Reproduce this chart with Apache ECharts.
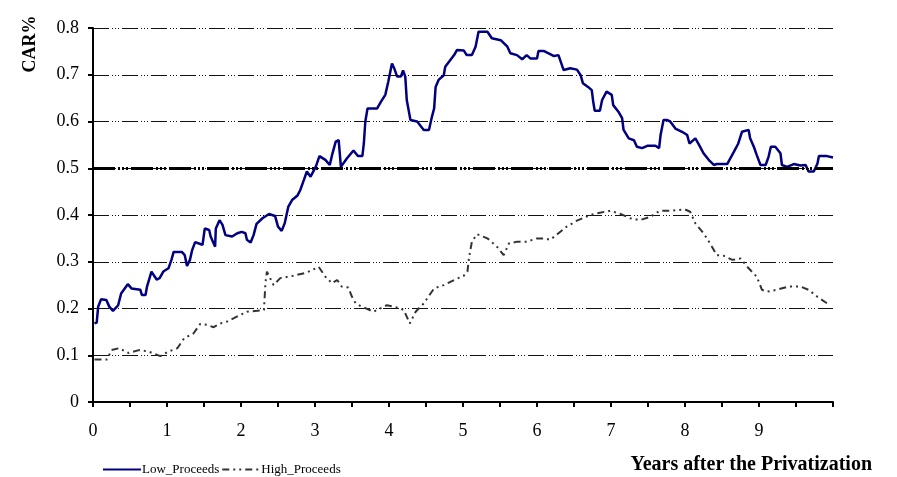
<!DOCTYPE html>
<html>
<head>
<meta charset="utf-8">
<script src="https://cdn.jsdelivr.net/npm/echarts@6/dist/echarts.min.js"></script>
<style>
  html, body { margin: 0; padding: 0; background: #fff; }
  #chart { width: 897px; height: 477px; }
</style>
</head>
<body>
<div id="chart"></div>
<script>
// values (years after privatization -> CAR)
var lowYears = [0.02, 0.05, 0.07, 0.11, 0.18, 0.22, 0.27, 0.34, 0.38, 0.47, 0.52, 0.64, 0.66, 0.71, 0.73, 0.79, 0.86, 0.90, 0.95,
  1.02, 1.06, 1.09, 1.20, 1.24, 1.27, 1.31, 1.34, 1.38, 1.45, 1.48, 1.51, 1.57, 1.59, 1.65, 1.66, 1.71, 1.75, 1.79, 1.88, 1.95,
  2.01, 2.06, 2.08, 2.13, 2.17, 2.21, 2.29, 2.38, 2.46, 2.50, 2.55, 2.59, 2.64, 2.69, 2.76, 2.80, 2.85, 2.89, 2.94,
  3.01, 3.06, 3.14, 3.20, 3.23, 3.28, 3.32, 3.35, 3.43, 3.52, 3.58, 3.64, 3.66, 3.68, 3.71, 3.84, 3.89, 3.95, 3.99,
  4.04, 4.07, 4.11, 4.16, 4.19, 4.22, 4.24, 4.29, 4.38, 4.47, 4.54, 4.58, 4.61, 4.63, 4.67, 4.74, 4.76, 4.88, 4.92,
  5.01, 5.05, 5.12, 5.17, 5.21, 5.33, 5.39, 5.51, 5.60, 5.64, 5.73, 5.80, 5.86, 5.91,
  6.00, 6.02, 6.09, 6.23, 6.29, 6.36, 6.45, 6.54, 6.59, 6.62, 6.69, 6.74, 6.76, 6.78, 6.85, 6.88, 6.94,
  7.01, 7.03, 7.10, 7.15, 7.17, 7.24, 7.31, 7.35, 7.42, 7.49, 7.60, 7.65, 7.67, 7.71, 7.76, 7.80, 7.87, 7.96,
  8.03, 8.06, 8.14, 8.19, 8.25, 8.32, 8.39, 8.43, 8.57, 8.66, 8.72, 8.77, 8.86, 8.88, 8.93, 8.97,
  9.02, 9.09, 9.13, 9.16, 9.22, 9.29, 9.31, 9.38, 9.47, 9.56, 9.63, 9.67, 9.74, 9.79, 9.81, 9.92, 10.0];
var lowValues = [0.168, 0.17, 0.204, 0.22, 0.218, 0.204, 0.195, 0.207, 0.232, 0.252, 0.243, 0.240, 0.229, 0.229, 0.247, 0.279, 0.262, 0.265, 0.279,
  0.286, 0.304, 0.321, 0.321, 0.314, 0.291, 0.304, 0.325, 0.342, 0.338, 0.336, 0.371, 0.368, 0.354, 0.332, 0.371, 0.389, 0.379, 0.357, 0.354, 0.361,
  0.364, 0.361, 0.347, 0.341, 0.357, 0.381, 0.393, 0.402, 0.398, 0.375, 0.366, 0.382, 0.418, 0.432, 0.441, 0.453, 0.475, 0.493, 0.482,
  0.503, 0.526, 0.518, 0.507, 0.528, 0.557, 0.560, 0.503, 0.521, 0.538, 0.526, 0.526, 0.553, 0.600, 0.628, 0.628, 0.642, 0.657, 0.685,
  0.724, 0.714, 0.696, 0.696, 0.709, 0.696, 0.646, 0.603, 0.600, 0.582, 0.582, 0.610, 0.628, 0.674, 0.689, 0.699, 0.717, 0.742, 0.753,
  0.752, 0.742, 0.742, 0.760, 0.792, 0.792, 0.778, 0.774, 0.760, 0.746, 0.742, 0.733, 0.742, 0.735,
  0.735, 0.751, 0.751, 0.740, 0.742, 0.710, 0.714, 0.711, 0.699, 0.682, 0.674, 0.667, 0.642, 0.623, 0.623, 0.646, 0.664,
  0.657, 0.635, 0.621, 0.607, 0.582, 0.564, 0.560, 0.546, 0.543, 0.548, 0.548, 0.543, 0.571, 0.603, 0.603, 0.600, 0.585, 0.578,
  0.571, 0.553, 0.564, 0.550, 0.532, 0.518, 0.507, 0.509, 0.509, 0.535, 0.553, 0.578, 0.582, 0.564, 0.546, 0.528,
  0.507, 0.507, 0.525, 0.546, 0.546, 0.532, 0.507, 0.503, 0.509, 0.506, 0.507, 0.493, 0.493, 0.510, 0.526, 0.526, 0.523];

var highYears = [0.02, 0.19, 0.25, 0.35, 0.48, 0.62, 0.75, 0.91, 1.02, 1.14, 1.23, 1.36, 1.45, 1.54, 1.63, 1.72, 1.81, 1.95,
  2.08, 2.22, 2.31, 2.33, 2.35, 2.44, 2.53, 2.71, 2.89, 3.05, 3.14, 3.23, 3.30, 3.36, 3.45, 3.50, 3.55, 3.62, 3.79, 3.97,
  4.09, 4.20, 4.28, 4.36, 4.47, 4.61, 4.74, 4.88, 5.01, 5.06, 5.08, 5.12, 5.19, 5.33, 5.46, 5.55, 5.62, 5.73, 5.86,
  6.00, 6.09, 6.18, 6.29, 6.40, 6.54, 6.72, 6.85, 6.99, 7.12, 7.26, 7.39, 7.53, 7.66, 7.80, 8.00, 8.07, 8.14, 8.25,
  8.34, 8.43, 8.52, 8.64, 8.75, 8.86, 8.97, 9.04, 9.11, 9.24, 9.40, 9.56, 9.67, 9.79, 9.92];
var highValues = [0.091, 0.091, 0.111, 0.115, 0.105, 0.111, 0.108, 0.098, 0.108, 0.115, 0.136, 0.147, 0.167, 0.165, 0.160, 0.168, 0.172, 0.183,
  0.193, 0.195, 0.197, 0.254, 0.279, 0.250, 0.265, 0.270, 0.277, 0.289, 0.268, 0.254, 0.261, 0.247, 0.245, 0.225, 0.211, 0.205, 0.193, 0.207,
  0.203, 0.197, 0.168, 0.193, 0.211, 0.243, 0.250, 0.261, 0.270, 0.279, 0.307, 0.343, 0.359, 0.350, 0.332, 0.314, 0.339, 0.343, 0.343,
  0.350, 0.350, 0.347, 0.361, 0.375, 0.388, 0.400, 0.405, 0.409, 0.403, 0.393, 0.389, 0.396, 0.409, 0.409, 0.412, 0.407, 0.382, 0.361,
  0.339, 0.314, 0.313, 0.304, 0.307, 0.286, 0.268, 0.240, 0.236, 0.240, 0.247, 0.247, 0.240, 0.225, 0.211];

var seriesNames = ['Low_Proceeds', 'High_Proceeds'];
var yTicks = [0, 0.1, 0.2, 0.3, 0.4, 0.5, 0.6, 0.7, 0.8];

function pairs(xs, ys) {
  return xs.map(function (x, i) { return [x, ys[i]]; });
}

var serif = '"Liberation Serif", "Times New Roman", serif';
var myChart = echarts.init(document.getElementById('chart'));

var option = {
  animation: false,
  backgroundColor: '#fff',
  textStyle: { fontFamily: serif, color: '#000' },
  grid: { left: 93, right: 64, top: 28, bottom: 75 },
  legend: {
    left: 97,
    top: 458,
    itemWidth: 38,
    itemHeight: 10,
    itemGap: 2,
    itemStyle: { opacity: 0 },
    textStyle: { fontFamily: serif, fontSize: 13, color: '#000', padding: [0, 0, 0, -4] },
    data: seriesNames
  },
  xAxis: {
    type: 'value',
    min: 0,
    max: 10,
    interval: 0.5,
    axisLine: { lineStyle: { color: '#000', width: 2 } },
    axisTick: { show: true, length: 5, lineStyle: { color: '#000', width: 2 } },
    axisLabel: {
      fontSize: 18, color: '#000', fontFamily: serif, margin: 20,
      formatter: function (v) { return (v % 1 === 0 && v < 10) ? String(v) : ''; }
    },
    splitLine: { show: false }
  },
  yAxis: {
    type: 'value',
    min: 0,
    max: 0.8,
    interval: 0.1,
    axisLine: { show: true, lineStyle: { color: '#000', width: 2 } },
    axisTick: { show: true, length: 5, lineStyle: { color: '#000', width: 2 } },
    axisLabel: {
      fontSize: 18, color: '#000', fontFamily: serif, margin: 14,
      formatter: function (v) {
        var t = yTicks.find(function (k) { return Math.abs(k - v) < 1e-6; });
        return t === 0 ? '0' : (t !== undefined ? t.toFixed(1) : '');
      }
    },
    splitLine: { show: true, lineStyle: { color: '#111', width: 1, type: [16, 3, 1, 2, 1, 2, 1, 3] } }
  },
  graphic: [
    {
      type: 'text', x: 30, y: 44, rotation: Math.PI / 2,
      style: { text: 'CAR%', fontFamily: serif, fontSize: 18, fontWeight: 'bold', fill: '#000', align: 'center', verticalAlign: 'middle' }
    },
    {
      type: 'text', right: 25, top: 455,
      style: { text: 'Years after the Privatization', fontFamily: serif, fontSize: 20, fontWeight: 'bold', fill: '#000' }
    }
  ],
  series: [
    {
      name: seriesNames[0],
      type: 'line',
      showSymbol: false,
      symbol: 'none',
      z: 3,
      lineStyle: { color: '#000080', width: 2.5 },
      itemStyle: { color: '#000080' },
      data: pairs(lowYears, lowValues),
      markLine: {
        silent: true,
        symbol: 'none',
        label: { show: false },
        lineStyle: { color: '#000', width: 3, type: [22, 3, 2, 2, 2, 2, 2, 3] },
        data: [{ yAxis: 0.5 }]
      }
    },
    {
      name: seriesNames[1],
      type: 'line',
      showSymbol: false,
      symbol: 'none',
      z: 2,
      lineStyle: { color: '#333', width: 2, type: [7, 4, 2, 4, 2, 4] },
      itemStyle: { color: '#333' },
      data: pairs(highYears, highValues)
    }
  ]
};

option && myChart.setOption(option);
</script>
</body>
</html>
